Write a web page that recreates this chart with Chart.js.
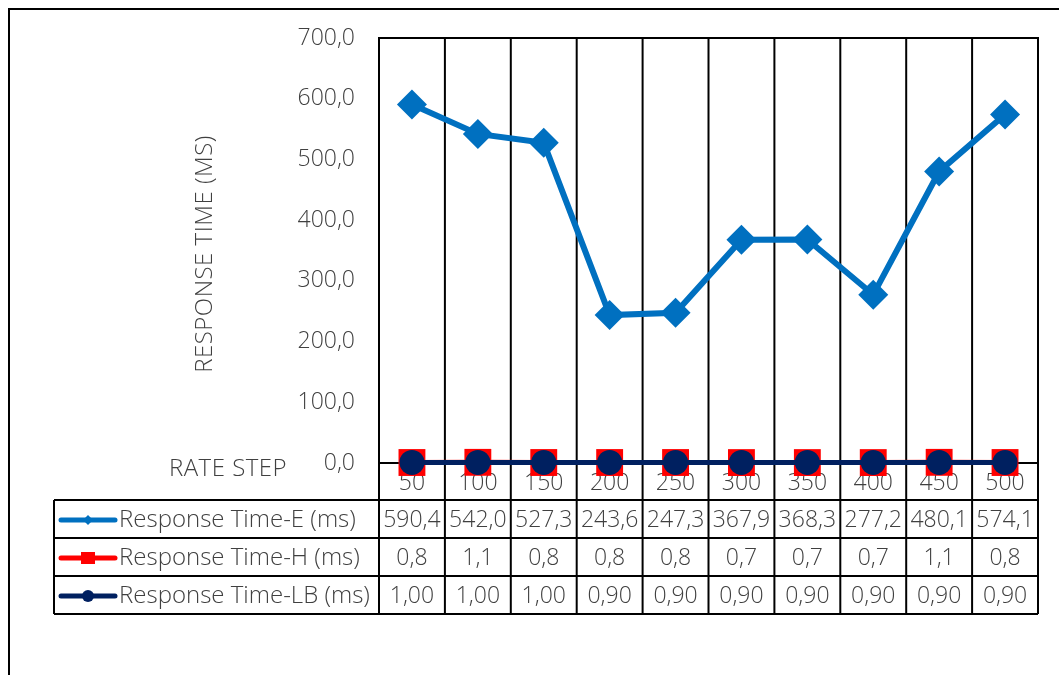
<!DOCTYPE html>
<html>
<head>
<meta charset="utf-8">
<script src="https://cdn.jsdelivr.net/npm/chart.js@4.4.1/dist/chart.umd.min.js"></script>
<style>
  html, body { margin: 0; padding: 0; background: #fff; }
  #wrap { width: 1059px; height: 675px; position: relative; }
</style>
</head>
<body>
<div id="wrap"><canvas id="c" width="1059" height="675"></canvas></div>
<script>
// Rate steps on the x axis
const rateSteps = ['50', '100', '150', '200', '250', '300', '350', '400', '450', '500'];
// Response times in ms
const responseE  = [590.4, 542.0, 527.3, 243.6, 247.3, 367.9, 368.3, 277.2, 480.1, 574.1];
const responseH  = [0.8, 1.1, 0.8, 0.8, 0.8, 0.7, 0.7, 0.7, 1.1, 0.8];
const responseLB = [1.00, 1.00, 1.00, 0.90, 0.90, 0.90, 0.90, 0.90, 0.90, 0.90];
const seriesNames = ['Response Time-E (ms)', 'Response Time-H (ms)', 'Response Time-LB (ms)'];
const yMin = 0, yMax = 700, yStep = 100;

const FONT = '"Open Sans", "DejaVu Sans", sans-serif';
const TEXT = '#404040';
const BLUE = '#0070C0', RED = '#FF0000', NAVY = '#002060';

const fmt = (v, d) => v.toFixed(d).replace('.', ',');

const rows = [
  { name: seriesNames[0], values: responseE,  dec: 1, color: BLUE, marker: 'diamond' },
  { name: seriesNames[1], values: responseH,  dec: 1, color: RED,  marker: 'square' },
  { name: seriesNames[2], values: responseLB, dec: 2, color: NAVY, marker: 'circle' }
];

const TABLE_TOP = 500, ROW_H = 38, TABLE_LEFT = 54;

const frame = {
  id: 'frame',
  beforeDatasetsDraw(chart) {
    const { ctx, chartArea: a, scales: { x } } = chart;
    const half = (x.getPixelForValue(1) - x.getPixelForValue(0)) / 2;
    const n = rateSteps.length;
    const bottom = TABLE_TOP + ROW_H * rows.length;
    ctx.save();
    ctx.strokeStyle = '#000';
    ctx.lineWidth = 2;
    const line = (x1, y1, x2, y2) => { ctx.beginPath(); ctx.moveTo(x1, y1); ctx.lineTo(x2, y2); ctx.stroke(); };

    // outer chart frame
    ctx.strokeRect(9, 9, 1100, 700);

    // plot area box
    ctx.strokeRect(a.left, a.top, a.right - a.left, a.bottom - a.top);

    // category separators, running through the data table
    for (let i = 0; i <= n; i++) {
      const px = x.getPixelForValue(0) - half + i * 2 * half;
      line(px, a.top, px, bottom);
    }
    // table rows
    for (let r = 0; r <= rows.length; r++) {
      const py = TABLE_TOP + r * ROW_H;
      line(TABLE_LEFT, py, a.right, py);
    }
    line(TABLE_LEFT, TABLE_TOP, TABLE_LEFT, bottom);

    // table contents
    ctx.fillStyle = TEXT;
    ctx.textBaseline = 'middle';
    rows.forEach((row, r) => {
      const cy = TABLE_TOP + r * ROW_H + ROW_H / 2 + 1;
      // legend key
      ctx.strokeStyle = row.color;
      ctx.lineWidth = 5;
      ctx.lineCap = 'round';
      line(61, cy, 115, cy);
      ctx.fillStyle = row.color;
      const mx = 88;
      ctx.beginPath();
      if (row.marker === 'diamond') {
        ctx.moveTo(mx - 5, cy); ctx.lineTo(mx, cy - 5); ctx.lineTo(mx + 5, cy); ctx.lineTo(mx, cy + 5);
        ctx.closePath();
      } else if (row.marker === 'square') {
        ctx.rect(mx - 7, cy - 6, 14, 12);
      } else {
        ctx.arc(mx, cy, 6, 0, Math.PI * 2);
      }
      ctx.fill();
      ctx.fillStyle = TEXT;
      ctx.font = '300 24px ' + FONT;
      ctx.textAlign = 'left';
      ctx.fillText(row.name, 119, cy);
      ctx.font = '300 23px ' + FONT;
      ctx.textAlign = 'center';
      row.values.forEach((v, i) => {
        ctx.fillText(fmt(v, row.dec), x.getPixelForValue(i), cy);
      });
    });

    // axis titles
    ctx.font = '300 24px ' + FONT;
    ctx.letterSpacing = '0.5px';
    ctx.textAlign = 'center';
    ctx.fillText('RATE STEP', 228, 469);
    ctx.translate(205, 254);
    ctx.rotate(-Math.PI / 2);
    ctx.fillText('RESPONSE TIME (MS)', 0, 0);
    ctx.restore();
  }
};

new Chart(document.getElementById('c'), {
  type: 'line',
  data: {
    labels: rateSteps,
    datasets: [
      {
        label: seriesNames[0], data: responseE,
        borderColor: BLUE, backgroundColor: BLUE, borderWidth: 6,
        pointStyle: 'rectRot', pointRadius: 15, pointBorderWidth: 0,
        clip: false, order: 3
      },
      {
        label: seriesNames[1], data: responseH,
        borderColor: RED, backgroundColor: RED, borderWidth: 5,
        pointStyle: 'rect', pointRadius: 19, pointBorderWidth: 0,
        clip: false, order: 2
      },
      {
        label: seriesNames[2], data: responseLB,
        borderColor: NAVY, backgroundColor: NAVY, borderWidth: 5,
        pointStyle: 'circle', pointRadius: 12.5, pointBorderWidth: 0,
        clip: false, order: 1
      }
    ]
  },
  options: {
    responsive: false,
    animation: false,
    devicePixelRatio: 1,
    layout: { padding: { top: 38, right: 21, left: 0, bottom: 0 } },
    plugins: { legend: { display: false }, tooltip: { enabled: false }, title: { display: false } },
    scales: {
      x: {
        type: 'category',
        offset: true,
        grid: { display: false, drawTicks: false },
        border: { display: false },
        ticks: { color: TEXT, font: { family: FONT, size: 23, weight: 300 }, padding: 7, maxRotation: 0 },
        afterFit: (s) => { s.height = 212; }
      },
      y: {
        min: yMin, max: yMax,
        grid: { display: false, drawTicks: false },
        border: { display: false },
        ticks: {
          stepSize: yStep, color: TEXT, padding: 24,
          font: { family: FONT, size: 23, weight: 300 },
          callback: (v) => fmt(v, 1)
        },
        afterFit: (s) => { s.width = 379; }
      }
    }
  },
  plugins: [frame]
});
</script>
</body>
</html>
